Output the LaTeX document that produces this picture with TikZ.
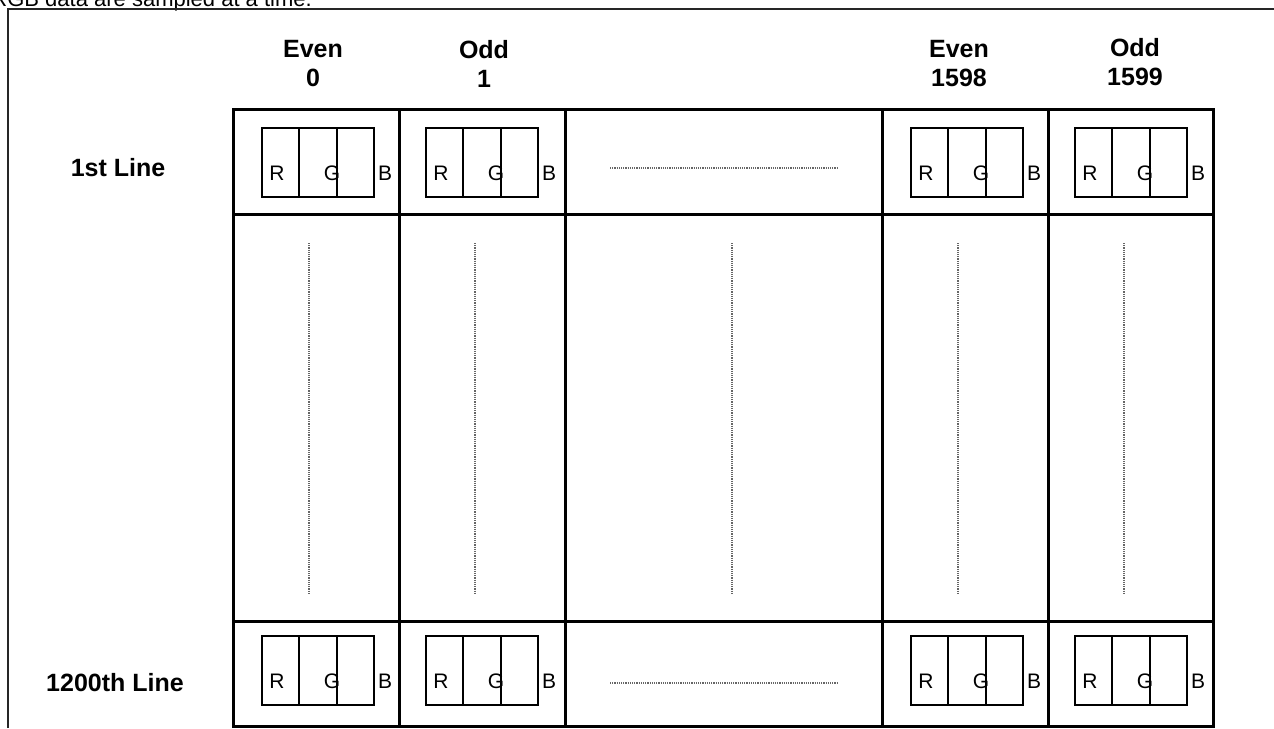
\documentclass[tikz,border=0pt]{standalone}
\usepackage{fontspec}
\setmainfont{Liberation Sans}
\usetikzlibrary{positioning}

\begin{document}
\begin{tikzpicture}[x=1pt,y=-1pt]
\tikzstyle{grid}=[line width=3pt,line cap=rect]
\tikzstyle{frame}=[line width=1.5pt,draw=black!85]
\tikzstyle{head}=[font=\fontsize{25}{29}\selectfont\bfseries,align=center,inner sep=0pt]
\tikzstyle{sub}=[draw,line width=2pt,minimum width=37.3pt,minimum height=69pt,inner sep=0pt,outer sep=0pt]
\tikzstyle{chan}=[font=\fontsize{21}{23}\selectfont,inner sep=0pt]
\tikzstyle{trail}=[black!60,densely dotted,line width=1.2pt]
\useasboundingbox (0,0) rectangle (1274,728);
% caption line, cut by the page edge
\node[anchor=base east,font=\fontsize{22}{24}\selectfont,inner sep=0pt] (note) at (312,6) {RGB data are sampled at a time.};
\draw[frame] (8,728) -- (8,9) -- (1274,9);
% table grid
\foreach \gy in {109,214,621,726}
  \draw[grid] (233,\gy) -- (1213,\gy);
\foreach \gx in {233,399,565,882,1048,1213}
  \draw[grid] (\gx,109) -- (\gx,726);
% column and row headings
\node[head] (h0) at (313,64) {Even\\0};
\node[head] (h1) at (484,64) {Odd\\1};
\node[head] (h2) at (959,64) {Even\\1598};
\node[head] (h3) at (1135,62) {Odd\\1599};
\node[head] (first) at (118,168) {1st Line};
\node[head] (last) at (115,683) {1200th Line};
% pixel boxes
\foreach \bx/\by/\nm in {262/128/pa,426/128/pb,911/128/pc,1075/128/pd,262/636/pe,426/636/pf,911/636/pg,1075/636/ph}{
  \node[sub,anchor=north west] (\nm r) at (\bx,\by) {};
  \node[sub,right=0pt of \nm r] (\nm g) {};
  \node[sub,right=0pt of \nm g] (\nm b) {};
  \node[chan] (\nm R) at (\bx+15,\by+45) {R};
  \node[chan] (\nm G) at (\bx+70,\by+45) {G};
  \node[chan] (\nm B) at (\bx+123,\by+45) {B};
}
% continuation dots
\foreach \dx in {309,475,732,958,1124}
  \draw[trail] (\dx,243) -- (\dx,593);
\foreach \dy in {168,683}
  \draw[trail] (610,\dy) -- (837,\dy);
\end{tikzpicture}
\end{document}
